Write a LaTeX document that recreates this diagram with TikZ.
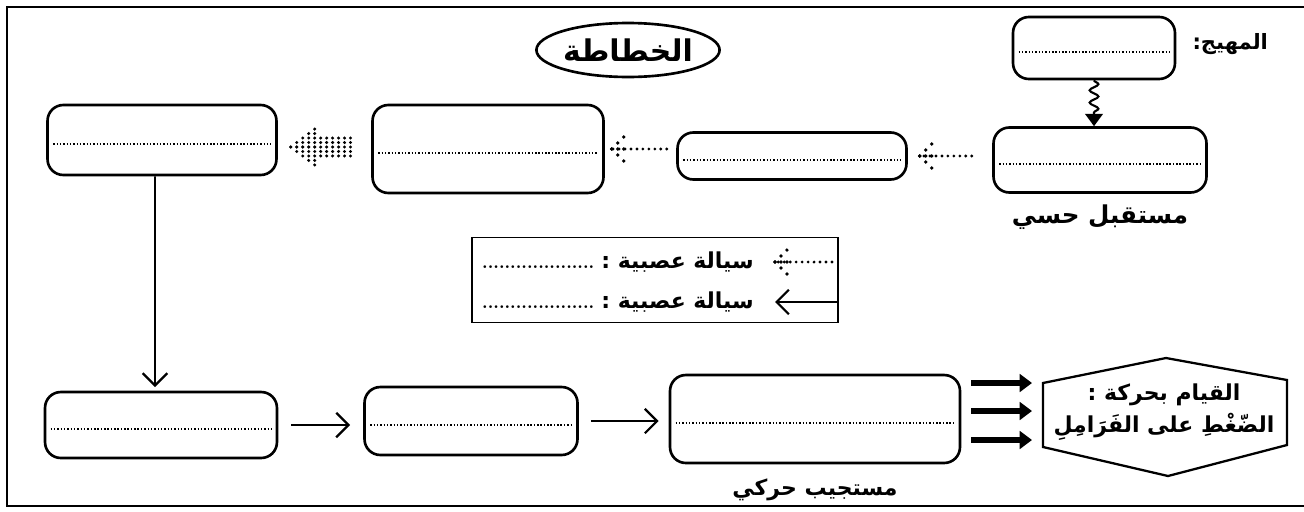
\documentclass[tikz,border=0pt]{standalone}
\usepackage{fontspec}
\newfontfamily\arabicfont[Script=Arabic]{DejaVu Sans}
\TeXXeTstate=1
\usetikzlibrary{positioning,shapes.geometric,arrows.meta,decorations.pathmorphing,decorations.markings}
\newcommand{\artext}[1]{{\arabicfont\bfseries\beginR #1\endR}}

\begin{document}
\begin{tikzpicture}[x=0.02cm,y=-0.02cm,font=\fontsize{14}{16}\selectfont]
\tikzstyle{box}=[draw, rounded corners=9pt, line width=1.5pt]
\tikzstyle{dotline}=[line width=0.8pt, dash pattern=on 0.8pt off 1.1pt]
\tikzstyle{arr}=[line width=1pt, -{Straight Barb[length=7pt,width=14pt,line width=1.3pt]}]
\tikzstyle{boldarr}=[line width=3pt, -{Triangle[length=7pt,width=10pt]}]
\tikzstyle{squiggle}=[line width=1.2pt, decorate, decoration={snake, amplitude=2.5pt, segment length=7pt, post length=7pt}, -{Triangle[length=7pt,width=10pt]}]
\tikzstyle{dotarr}=[line width=1.8pt, dash pattern=on 0pt off 3.4pt, line cap=round, postaction={decorate}, decoration={markings, mark=at position 1 with {
  \foreach \k in {0,1,2} {\fill (-\k*3.4pt,\k*3.4pt) circle (1.05pt); \fill (-\k*3.4pt,-\k*3.4pt) circle (1.05pt);}
  \foreach \k in {1,2} \fill (-\k*3.4pt,0) circle (1.05pt);}}]
\tikzstyle{fatarr}=[postaction={decorate}, decoration={markings, mark=at position 1 with {
  \foreach \c in {0,...,4} \foreach \m in {0,...,\c} {\fill (-\c*3.4pt,\m*2.55pt) circle (0.95pt); \fill (-\c*3.4pt,-\m*2.55pt) circle (0.95pt);}
  \foreach \c in {5,...,10} \foreach \m in {-2,...,2} \fill (-\c*3.4pt,\m*2.55pt) circle (0.95pt);}}]
\useasboundingbox (0,0) rectangle (1304,511);
\draw[line width=1.6pt] (1304,7) -- (7,7) -- (7,506) -- (1304,506);

% title
\node[ellipse, draw, line width=1.5pt, inner sep=0pt, minimum width=3.4cm, minimum height=1.08cm, font=\fontsize{17}{19}\selectfont] (title) at (628,50) {\artext{الخطاطة}};

% boxes
\node[box, minimum width=3.24cm, minimum height=1.24cm] (stim) at (1094,48) {};
\node[box, minimum width=4.26cm, minimum height=1.30cm] (recep) at (1100,160) {};
\node[box, minimum width=4.58cm, minimum height=0.94cm] (cort1) at (792,156) {};
\node[box, minimum width=4.62cm, minimum height=1.76cm] (cort2) at (488,149) {};
\node[box, minimum width=4.58cm, minimum height=1.40cm] (cort3) at (162,140) {};
\node[box, minimum width=4.64cm, minimum height=1.32cm] (med) at (161,425) {};
\node[box, minimum width=4.26cm, minimum height=1.36cm] (nerve) at (471,421) {};
\node[box, minimum width=5.80cm, minimum height=1.76cm] (effector) at (815,419) {};
\foreach \b in {stim,recep,cort1,cort2,cort3,med,nerve,effector}
  \draw[dotline] ([xshift=0.14cm,yshift=-0.08cm]\b.west) -- ([xshift=-0.14cm,yshift=-0.08cm]\b.east);

% labels
\node (stimlbl) [right=0.2cm of stim, yshift=2pt, font=\fontsize{12}{14}\selectfont] {\artext{المهيج:}};
\node (receplbl) [below=0.1cm of recep] {\artext{مستقبل حسي}};
\node (efflbl) [below=0.16cm of effector, font=\fontsize{12.5}{14}\selectfont] {\artext{مستجيب حركي}};

% legend
\node[draw, line width=0.8pt, minimum width=7.32cm, minimum height=1.7cm] (legend) at (655,280) {};
\node[anchor=east, font=\fontsize{12.5}{14}\selectfont] (leg1) at (760,262) {{\normalfont\bfseries\fontsize{10}{10}\selectfont ....................}~\artext{سيالة عصبية :}};
\node[anchor=east, font=\fontsize{12.5}{14}\selectfont] (leg2) at (760,302) {{\normalfont\bfseries\fontsize{10}{10}\selectfont ....................}~\artext{سيالة عصبية :}};
\draw[dotarr] ([xshift=1.44cm]leg1.east) -- ([xshift=0.3cm]leg1.east);
\draw[arr] ([xshift=1.56cm]leg2.east) -- ([xshift=0.3cm]leg2.east);

% action
\node[align=center, font=\fontsize{12.5}{15}\selectfont] (act) at (1164,412) {\artext{القيام بحركة :}\\[3pt] \artext{الضّغْطِ على الفَرَامِلِ}};
\draw[line width=1.3pt] (1043,383) -- (1166,358) -- (1287,380) -- (1287,445) -- (1168,476) -- (1043,447) -- cycle;
\coordinate (actin) at (1032,414);

% connectors
\draw[squiggle] (stim.south) -- (stim.south |- recep.north);
\draw[dotarr] ([xshift=1.28cm]cort1.east) -- ([xshift=0.24cm]cort1.east);
\draw[dotarr] ([xshift=1.24cm]cort2.east) -- ([xshift=0.14cm]cort2.east);
\path[fatarr] ([xshift=1.46cm,yshift=-0.14cm]cort3.east) -- ([xshift=0.26cm,yshift=-0.14cm]cort3.east);
\draw[arr, shorten >=2pt] ([xshift=-0.14cm]cort3.south) -- ([xshift=-0.12cm]med.north);
\draw[arr] ([xshift=0.26cm]med.east) -- ([xshift=-0.26cm]nerve.west |- med.east);
\draw[arr] ([xshift=0.24cm]nerve.east) -- ([xshift=-0.2cm]effector.west |- nerve.east);
\foreach \yy in {383,411,440}
  \draw[boldarr] ([xshift=0.2cm]effector.east |- 0,\yy) -- (actin |- 0,\yy);
\end{tikzpicture}
\end{document}
